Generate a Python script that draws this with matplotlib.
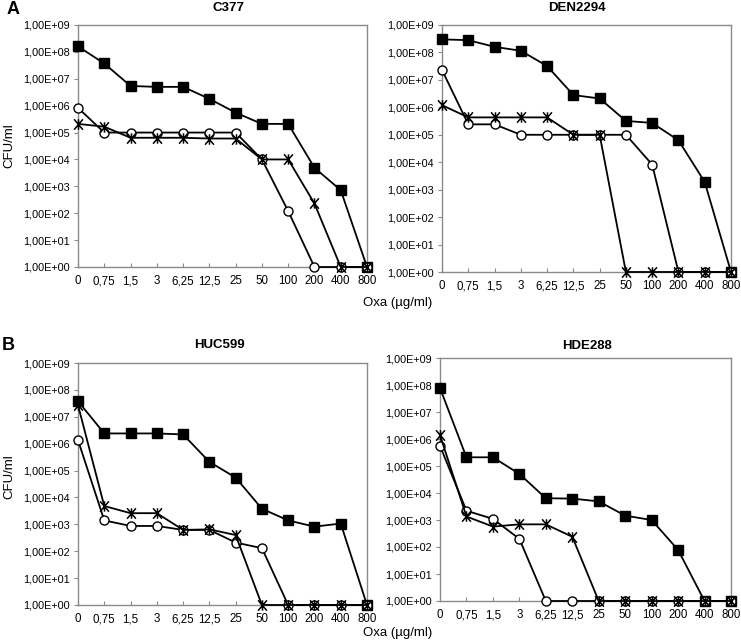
import numpy as np
import matplotlib
matplotlib.use('Agg')
import matplotlib.pyplot as plt
from matplotlib.path import Path
from matplotlib.ticker import FixedLocator, FuncFormatter

plt.rcParams['font.family'] = ['Liberation Sans', 'DejaVu Sans']

# ── Data (CFU/ml) ────────────────────────────────────────────────────────────
OXA = ["0", "0,75", "1,5", "3", "6,25", "12,5", "25", "50", "100", "200", "400", "800"]

C377_SQ   = [1.6e8, 3.7e7, 5.4e6, 5.0e6, 5.0e6, 1.8e6, 5.5e5, 2.1e5, 2.1e5, 4.9e3, 7.2e2, 1]
C377_CI   = [8.3e5, 1.0e5, 1.0e5, 1.0e5, 1.0e5, 1.0e5, 1.0e5, 1.0e4, 1.2e2, 1, 1, 1]
C377_ST   = [2.1e5, 1.65e5, 6.4e4, 6.4e4, 6.4e4, 6.0e4, 6.0e4, 1.0e4, 1.0e4, 2.3e2, 1, 1]

DEN_SQ    = [3.0e8, 2.8e8, 1.6e8, 1.15e8, 3.2e7, 2.8e6, 2.1e6, 3.2e5, 2.7e5, 6.3e4, 1.9e3, 1]
DEN_CI    = [2.3e7, 2.4e5, 2.4e5, 1.0e5, 1.0e5, 1.0e5, 1.0e5, 1.0e5, 8.2e3, 1, 1, 1]
DEN_ST    = [1.2e6, 4.3e5, 4.3e5, 4.3e5, 4.3e5, 1.0e5, 1.0e5, 1, 1, 1, 1, 1]

HUC_SQ    = [3.8e7, 2.4e6, 2.4e6, 2.4e6, 2.2e6, 2.1e5, 5.5e4, 3.8e3, 1.4e3, 8.2e2, 1.07e3, 1]
HUC_CI    = [1.35e6, 1.4e3, 8.7e2, 8.7e2, 6.2e2, 6.2e2, 2.1e2, 1.3e2, 1, 1, 1, 1]
HUC_ST    = [2.7e7, 4.8e3, 2.6e3, 2.6e3, 6.2e2, 6.5e2, 4.0e2, 1, 1, 1, 1, 1]

HDE_SQ    = [7.7e7, 2.1e5, 2.1e5, 5.1e4, 6.4e3, 6.2e3, 4.9e3, 1.45e3, 1.0e3, 78, 1, 1]
HDE_CI    = [5.6e5, 2.2e3, 1.1e3, 2.0e2, 1, 1, 1, 1, 1, 1, 1, 1]
HDE_ST    = [1.4e6, 1.35e3, 5.7e2, 6.9e2, 6.9e2, 2.4e2, 1, 1, 1, 1, 1, 1]

# X with a vertical bar, like the Excel star marker
STAR = Path([(-0.85, -1), (0.85, 1), (-0.85, 1), (0.85, -1), (0, -1), (0, 1)],
            [Path.MOVETO, Path.LINETO] * 3)

W, H = 741, 642
fig = plt.figure(figsize=(W / 100, H / 100), dpi=100)


def box(l, t, r, b):
    return [l / W, 1 - b / H, (r - l) / W, (b - t) / H]


def panel(rect, sq, ci, st):
    ax = fig.add_axes(rect)
    x = np.arange(len(OXA))
    ax.plot(x, sq, color='black', lw=1.3, marker='s', ms=7, mfc='black',
            mec='black', clip_on=False, zorder=3)
    ax.plot(x, ci, color='black', lw=1.3, marker='o', ms=6.5, mfc='white',
            mec='black', mew=1.0, clip_on=False, zorder=4)
    ax.plot(x, st, color='black', lw=1.3, marker=STAR, ms=7.5, mec='black',
            mew=1.1, clip_on=False, zorder=5)
    ax.set_yscale('log')
    ax.set_ylim(1, 1e9)
    ax.set_xlim(0, len(OXA) - 1)
    ax.yaxis.set_major_locator(FixedLocator([10.0 ** k for k in range(10)]))
    ax.yaxis.set_minor_locator(FixedLocator([]))
    ax.yaxis.set_major_formatter(
        FuncFormatter(lambda v, p: "1,00E+%02d" % int(round(np.log10(v)))))
    ax.set_xticks(x)
    ax.set_xticklabels(OXA)
    for s in ax.spines.values():
        s.set_color('#8a8a8a')
        s.set_linewidth(1.0)
    ax.tick_params(axis='y', direction='out', length=3, width=0.8,
                   color='#8a8a8a', labelsize=7.8, pad=3)
    ax.tick_params(axis='x', direction='in', length=3, width=0.8,
                   color='#8a8a8a', labelsize=8.3, pad=6)
    return ax


panel(box(78, 25, 367, 267), C377_SQ, C377_CI, C377_ST)
panel(box(442, 25, 731, 272), DEN_SQ, DEN_CI, DEN_ST)
panel(box(78, 363, 367, 605), HUC_SQ, HUC_CI, HUC_ST)
panel(box(440, 358, 731, 601), HDE_SQ, HDE_CI, HDE_ST)


# titles and labels
def ftext(px, py, s, **kw):
    fig.text(px / W, 1 - py / H, s, **kw)


ftext(229, 8, "C377", ha='center', va='center', fontsize=9.5, fontweight='bold')
ftext(577, 8, "DEN2294", ha='center', va='center', fontsize=9.5, fontweight='bold')
ftext(219, 345, "HUC599", ha='center', va='center', fontsize=9.5, fontweight='bold')
ftext(587, 346, "HDE288", ha='center', va='center', fontsize=9.5, fontweight='bold')

ftext(13, 10, "A", ha='center', va='center', fontsize=13, fontweight='bold')
ftext(8, 345, "B", ha='center', va='center', fontsize=13, fontweight='bold')

ftext(9, 146, "CFU/ml", ha='center', va='center', rotation=90, fontsize=9.5)
ftext(9, 477, "CFU/ml", ha='center', va='center', rotation=90, fontsize=9.5)

ftext(398, 303, "Oxa (µg/ml)", ha='center', va='center', fontsize=9.5)
ftext(398, 633, "Oxa (µg/ml)", ha='center', va='center', fontsize=9.5)

fig.savefig("out.png", dpi=100)
